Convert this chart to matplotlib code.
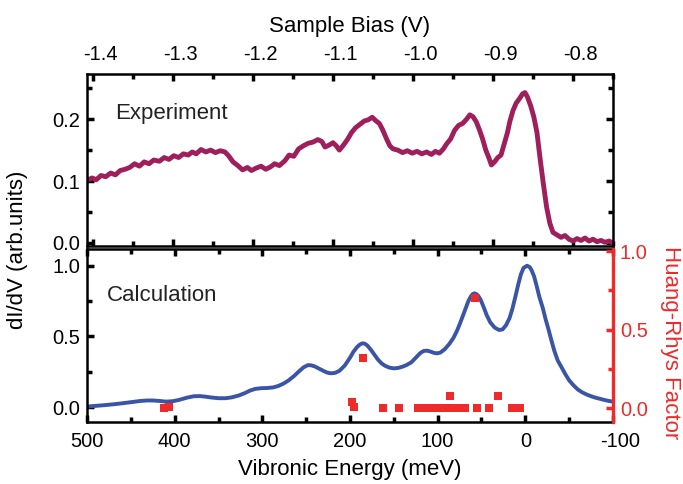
import numpy as np
import matplotlib
matplotlib.use('Agg')
from matplotlib import pyplot as plt
from matplotlib.ticker import MultipleLocator
from matplotlib.transforms import ScaledTranslation

plt.rcParams['font.family'] = ['Liberation Sans', 'DejaVu Sans']
plt.rcParams['axes.unicode_minus'] = False

# experiment: sample bias (V) vs dI/dV
bias = [-1.408, -1.401, -1.396, -1.390, -1.384, -1.378, -1.372, -1.366, -1.360, -1.354,
        -1.348, -1.342, -1.336, -1.330, -1.324, -1.317, -1.311, -1.305, -1.299, -1.293,
        -1.287, -1.281, -1.276, -1.271, -1.265, -1.259, -1.253, -1.247, -1.241, -1.235,
        -1.230, -1.225, -1.219, -1.213, -1.207, -1.202, -1.196, -1.190, -1.184, -1.178,
        -1.173, -1.167, -1.160, -1.155, -1.149, -1.143, -1.137, -1.131, -1.125, -1.119,
        -1.114, -1.110, -1.105, -1.100, -1.096, -1.092, -1.087, -1.082, -1.077, -1.072,
        -1.066, -1.061, -1.056, -1.051, -1.046, -1.042, -1.038, -1.033, -1.029, -1.025,
        -1.019, -1.013, -1.007, -1.001, -0.995, -0.989, -0.983, -0.977, -0.972, -0.967,
        -0.962, -0.958, -0.953, -0.948, -0.943, -0.938, -0.933, -0.929, -0.925, -0.921,
        -0.917, -0.913, -0.909, -0.905, -0.902, -0.898, -0.894, -0.890, -0.886, -0.882,
        -0.879, -0.875, -0.871, -0.867, -0.863, -0.860, -0.857, -0.853, -0.849, -0.845,
        -0.841, -0.837, -0.833, -0.829, -0.825, -0.820, -0.815, -0.810, -0.805, -0.800,
        -0.795, -0.790, -0.785, -0.780, -0.775, -0.770, -0.765, -0.760, -0.755, -0.750]
didv = [0.101, 0.105, 0.102, 0.109, 0.107, 0.113, 0.110, 0.117, 0.119, 0.122,
        0.128, 0.124, 0.131, 0.128, 0.134, 0.132, 0.138, 0.135, 0.141, 0.138,
        0.144, 0.142, 0.147, 0.144, 0.151, 0.147, 0.150, 0.146, 0.149, 0.147,
        0.140, 0.131, 0.125, 0.118, 0.122, 0.117, 0.121, 0.124, 0.119, 0.123,
        0.128, 0.125, 0.133, 0.142, 0.140, 0.152, 0.157, 0.161, 0.163, 0.167,
        0.164, 0.155, 0.158, 0.162, 0.157, 0.150, 0.158, 0.167, 0.178, 0.186,
        0.192, 0.197, 0.199, 0.203, 0.197, 0.193, 0.183, 0.168, 0.157, 0.152,
        0.150, 0.146, 0.149, 0.145, 0.148, 0.144, 0.147, 0.143, 0.148, 0.145,
        0.152, 0.160, 0.168, 0.182, 0.190, 0.193, 0.200, 0.207, 0.204, 0.196,
        0.183, 0.168, 0.150, 0.137, 0.126, 0.131, 0.138, 0.142, 0.160, 0.178,
        0.196, 0.214, 0.226, 0.233, 0.241, 0.243, 0.236, 0.222, 0.204, 0.178,
        0.135, 0.095, 0.058, 0.032, 0.017, 0.013, 0.009, 0.012, 0.006, 0.003,
        0.007, 0.004, 0.008, 0.003, 0.006, 0.002, 0.004, 0.001, 0.003, 0.000]

# calculation: vibronic energy (meV) vs dI/dV
energy = [500, 490, 480, 470, 460, 450, 440, 432, 425, 418, 410, 402, 395, 386, 378,
          371, 365, 358, 350, 342, 335, 327, 320, 314, 308, 301, 295, 288, 282, 276,
          270, 264, 258, 253, 248, 244, 240, 235, 230, 226, 222, 217, 212, 206, 200,
          196, 192, 189, 186, 183, 180, 176, 172, 168, 164, 160, 155, 150, 145, 140,
          135, 130, 125, 120, 116, 112, 108, 104, 101, 97, 92, 87, 82, 78, 75,
          71, 68, 65, 62, 60, 58, 56, 54, 51, 48, 44, 40, 35, 30, 26,
          22, 18, 15, 11, 8, 5, 2, -2, -5, -7, -10, -13, -16, -20, -23,
          -26, -29, -33, -37, -42, -46, -50, -55, -60, -65, -70, -75, -80, -85, -90,
          -95, -100]
calc = [0.005, 0.010, 0.015, 0.021, 0.028, 0.036, 0.044, 0.048, 0.048, 0.045, 0.040, 0.043, 0.052, 0.068, 0.078,
        0.079, 0.075, 0.069, 0.064, 0.064, 0.070, 0.083, 0.100, 0.118, 0.130, 0.135, 0.136, 0.140, 0.150, 0.167,
        0.190, 0.220, 0.255, 0.282, 0.298, 0.296, 0.288, 0.272, 0.256, 0.245, 0.240, 0.243, 0.258, 0.295, 0.350,
        0.393, 0.425, 0.442, 0.452, 0.449, 0.435, 0.405, 0.370, 0.336, 0.310, 0.293, 0.280, 0.275, 0.278, 0.287,
        0.300, 0.318, 0.350, 0.382, 0.398, 0.400, 0.393, 0.384, 0.381, 0.386, 0.410, 0.445, 0.490, 0.540, 0.585,
        0.650, 0.700, 0.750, 0.785, 0.800, 0.805, 0.800, 0.790, 0.760, 0.715, 0.650, 0.600, 0.563, 0.546, 0.550,
        0.580, 0.630, 0.690, 0.790, 0.870, 0.940, 0.985, 1.000, 0.990, 0.970, 0.925, 0.855, 0.780, 0.700, 0.625,
        0.560, 0.490, 0.400, 0.330, 0.275, 0.230, 0.190, 0.155, 0.125, 0.105, 0.090, 0.078, 0.068, 0.060, 0.052,
        0.045, 0.040]

# Huang-Rhys factors
hr_energy = [412, 407, 198, 195, 185, 162, 144, 123, 117, 111, 105, 99, 93, 87, 86, 81, 75, 69,
             57, 55, 41, 31, 15, 6]
hr_factor = [0.003, 0.008, 0.036, 0.004, 0.317, 0.003, 0.003, 0.003, 0.003, 0.003, 0.003, 0.003,
             0.003, 0.003, 0.076, 0.003, 0.003, 0.003, 0.700, 0.003, 0.003, 0.074, 0.003, 0.003]

bias_ticks = [-1.4, -1.3, -1.2, -1.1, -1.0, -0.9, -0.8]
energy_ticks = [500, 400, 300, 200, 100, 0, -100]

exp_color = '#9E1F5C'
calc_color = '#3B55A6'
red = '#EE2A2A'
tick_fs = 14.5
label_fs = 16

fig = plt.figure(figsize=(6.83, 4.84), dpi=100)
ax1 = fig.add_axes([0.1274, 0.4917, 0.7701, 0.3554])
ax2 = fig.add_axes([0.1274, 0.1281, 0.7701, 0.3574])

for ax in (ax1, ax2):
    for s in ax.spines.values():
        s.set_linewidth(1.8)
    ax.tick_params(which='both', direction='in', labelsize=tick_fs, width=2.5, pad=5)
    ax.tick_params(which='major', length=5)
    ax.tick_params(which='minor', length=3.5)

# top panel
ax1.plot(bias, didv, color=exp_color, lw=3.5, solid_joinstyle='round')
ax1.set_xlim(-1.4075, -0.75)
ax1.set_ylim(-0.005, 0.273)
ax1.set_xticks(bias_ticks, [f'{v:.1f}' for v in bias_ticks])
ax1.xaxis.set_minor_locator(MultipleLocator(0.05))
ax1.yaxis.set_major_locator(MultipleLocator(0.1))
ax1.yaxis.set_minor_locator(MultipleLocator(0.05))
ax1.yaxis.set_major_formatter(plt.FuncFormatter(lambda v, p: f'{v:.1f}'))
ax1.tick_params(which='both', top=True, bottom=True, right=True, labeltop=True, labelbottom=False)
ax1.tick_params(axis='x', pad=7)
ax1.text(0.054, 0.773, 'Experiment', transform=ax1.transAxes, fontsize=label_fs,
         va='center', color='#222222')

# bottom panel
ax2.plot(energy, calc, color=calc_color, lw=2.8)
ax2.set_xlim(500, -100)
ax2.set_ylim(-0.104, 1.118)
ax2.set_xticks(energy_ticks, [str(v) for v in energy_ticks])
ax2.xaxis.set_minor_locator(MultipleLocator(50))
ax2.yaxis.set_major_locator(MultipleLocator(0.5))
ax2.yaxis.set_minor_locator(MultipleLocator(0.25))
ax2.yaxis.set_major_formatter(plt.FuncFormatter(lambda v, p: f'{v:.1f}'))
ax2.tick_params(which='both', top=True, bottom=True, right=False)
ax2.tick_params(axis='x', pad=7)
ax2.text(0.037, 0.734, 'Calculation', transform=ax2.transAxes, fontsize=label_fs,
         va='center', color='#222222')

ax3 = ax2.twinx()
ax3.plot(hr_energy, hr_factor, 's', color=red, markersize=5.5, markeredgewidth=0)
ax3.set_ylim(-0.089, 1.013)
ax3.yaxis.set_major_locator(MultipleLocator(0.5))
ax3.yaxis.set_minor_locator(MultipleLocator(0.25))
ax3.yaxis.set_major_formatter(plt.FuncFormatter(lambda v, p: f'{v:.1f}'))
ax3.spines['right'].set_color(red)
ax3.spines['right'].set_linewidth(2.4)
for side in ('left', 'top', 'bottom'):
    ax3.spines[side].set_visible(False)
ax3.tick_params(axis='y', which='both', direction='in', colors=red, labelsize=tick_fs, width=2.5, pad=5)
ax3.tick_params(axis='y', which='major', length=5)
ax3.tick_params(axis='y', which='minor', length=3.5)

# negative tick labels sit a bit right of their tick, as in the original
shift = ScaledTranslation(7 / 100, 0, fig.dpi_scale_trans)
for tick in ax1.xaxis.get_major_ticks() + ax2.xaxis.get_major_ticks():
    for lab in (tick.label1, tick.label2):
        if lab.get_text().startswith('-'):
            lab.set_transform(lab.get_transform() + shift)

fig.text(0.512, 0.945, 'Sample Bias (V)', ha='center', va='center', fontsize=label_fs)
fig.text(0.512, 0.030, 'Vibronic Energy (meV)', ha='center', va='center', fontsize=label_fs)
fig.text(0.026, 0.483, 'dI/dV (arb.units)', ha='center', va='center', rotation=90, fontsize=label_fs)
fig.text(0.982, 0.293, 'Huang-Rhys Factor', ha='center', va='center', rotation=270,
         fontsize=label_fs, color=red)

fig.savefig('out.png', dpi=100)
